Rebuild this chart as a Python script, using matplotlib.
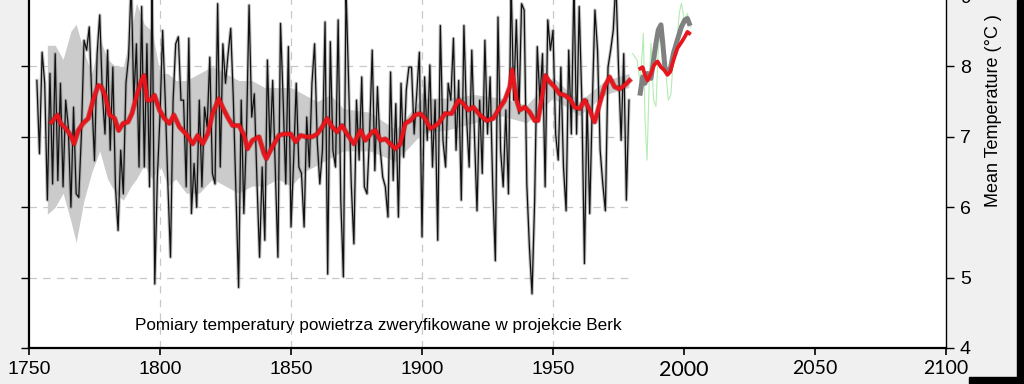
import matplotlib.pyplot as plt
from matplotlib.patches import Rectangle

# annual mean temperature, 1753-1979
annual_start = 1753
annual_temp = [
    7.8, 6.76, 8.2, 7.76, 6.1, 7.9, 6.33, 8.18, 6.38, 7.76,
    6.29, 7.52, 7.14, 6.0, 7.42, 6.19, 6.14, 7.04, 8.37, 8.23,
    8.56, 7.52, 6.66, 8.18, 8.73, 7.61, 7.04, 8.23, 6.81, 7.99,
    6.29, 5.67, 6.81, 6.19, 7.76, 8.13, 9.2, 7.52, 8.32, 6.57,
    8.85, 6.57, 8.32, 6.29, 9.2, 4.91, 6.43, 7.3, 8.51, 7.52,
    6.33, 5.29, 7.52, 8.32, 8.42, 7.52,
    # 1809-
    7.52, 6.29, 8.4, 5.91, 6.62, 6.0, 7.52, 6.29, 7.42, 7.14,
    8.13, 6.48, 6.33, 8.89, 6.57, 8.32, 7.76, 8.18, 8.54, 7.52,
    6.19, 4.86, 7.52, 5.91, 7.04, 8.87, 7.28, 7.61, 6.38, 5.29,
    6.57, 5.53, 8.09, 6.81, 7.8, 6.57, 5.29, 8.61, 7.52, 6.33,
    8.28, 5.72, 6.66, 7.76, 6.57, 6.48, 5.72, 7.28, 6.57, 7.76,
    8.32, 6.95, 6.33, 6.81, 8.63, 5.05, 8.35, 6.81,
    # 1867-
    6.57, 8.66, 6.1, 5.01, 9.1, 7.76, 6.33, 5.48, 7.52, 6.67,
    7.85, 6.29, 6.19, 7.04, 8.23, 6.52, 7.71, 6.85, 6.43, 6.29,
    5.86, 7.92, 6.38, 7.47, 5.86, 7.76, 6.71, 7.66, 7.99, 7.99,
    7.04, 7.61, 8.2, 5.58, 7.85, 6.95, 8.02, 6.57, 7.52, 5.53,
    8.58, 6.95, 6.57, 7.76, 7.52, 8.4, 6.81, 7.8, 6.1, 8.58,
    7.28, 6.57, 8.23, 7.04, 5.95, 7.52, 6.48, 8.37, 7.04, 7.85,
    # 1927-
    6.29, 5.24, 8.7, 6.81, 6.29, 7.38, 6.19, 9.2, 7.52, 8.66,
    7.33, 8.89, 8.8, 6.33, 5.43, 4.77, 6.1, 8.28, 7.52, 8.18,
    6.29, 8.66, 8.23, 8.51, 7.04, 6.67, 7.99, 6.57, 5.95, 8.23,
    7.04, 9.2, 7.04, 8.85, 7.52, 5.2, 7.52, 5.91, 7.47, 8.8,
    8.23, 6.81, 6.33, 5.95, 7.99, 8.23, 8.51, 9.2, 7.99, 6.95,
    8.18, 6.1, 7.52,
]
annual_years = list(range(annual_start, annual_start + len(annual_temp)))

# 10-year moving average (red)
red_years = [
    1758.6, 1760.9, 1762.1, 1764, 1765, 1766.2, 1767.2, 1768.8, 1770.6, 1772.6,
    1774.5, 1776.4, 1777.6, 1779.2, 1780.8, 1782.7, 1784.2, 1785.9, 1787.8, 1789.3,
    1791, 1792.9, 1793.9, 1795.1, 1796.6, 1797.9, 1799.8, 1801.7, 1803.6, 1805.3,
    1807.4, 1810, 1812.5, 1814.4, 1816.3, 1818.2, 1820.1, 1822.4, 1823.9, 1825.8,
    1827.7, 1830.2, 1832.1, 1833.4, 1835.3, 1837.8, 1839.7, 1840.6, 1842.9, 1845.4,
    1847.3, 1849.9, 1851.8, 1853.7, 1855.6, 1858.1, 1860, 1861.9, 1863.8, 1865.7,
    1867.6, 1869.5, 1871.4, 1874, 1876.5, 1878.4, 1881, 1882.2, 1884.1, 1886,
    1887.9, 1889.8, 1891.7, 1893.6, 1895.5, 1897.4, 1899.3, 1901.2, 1903.1, 1904.4,
    1906.3, 1908.8, 1911.3, 1913.9, 1915.8, 1917.7, 1919.6, 1922.1, 1924.7, 1927.2,
    1929.1, 1931.6, 1933.5, 1934.4, 1936.1, 1937.3, 1939.2, 1941.1, 1943, 1944.3,
    1945.6, 1947.1, 1948.7, 1950.6, 1952.5, 1954.5, 1956.4, 1958.3, 1960.2, 1962.1,
    1964, 1965.9, 1967.8, 1969.7, 1971.6, 1973.5, 1975.4, 1977.3, 1979.2,
]
red_temp = [
    7.21, 7.31, 7.19, 7.12, 7.07, 7.0, 6.9, 7.09, 7.19, 7.26,
    7.52, 7.73, 7.71, 7.57, 7.31, 7.26, 7.09, 7.19, 7.21, 7.33,
    7.57, 7.8, 7.87, 7.52, 7.52, 7.59, 7.38, 7.26, 7.19, 7.31,
    7.14, 7.04, 6.9, 7.02, 6.9, 7.04, 7.33, 7.54, 7.42, 7.28,
    7.16, 7.16, 7.02, 6.83, 6.95, 7.0, 6.76, 6.69, 6.86, 7.02,
    7.04, 7.04, 6.93, 7.02, 7.0, 7.0, 7.04, 7.14, 7.26, 7.14,
    7.07, 7.16, 7.04, 6.9, 7.09, 6.95, 7.07, 7.09, 6.95, 6.97,
    6.9, 6.83, 6.9, 7.19, 7.23, 7.31, 7.33, 7.26, 7.12, 7.14,
    7.19, 7.33, 7.33, 7.52, 7.47, 7.38, 7.42, 7.31, 7.23, 7.26,
    7.38, 7.52, 7.71, 7.95, 7.52, 7.38, 7.42, 7.35, 7.23, 7.23,
    7.52, 7.87, 7.78, 7.71, 7.61, 7.59, 7.54, 7.42, 7.4, 7.52,
    7.38, 7.21, 7.47, 7.71, 7.85, 7.71, 7.68, 7.73, 7.8,
]

# uncertainty band
band_years = [1757, 1760, 1763, 1766, 1768, 1771, 1774, 1777, 1780, 1783,
              1786, 1789, 1791, 1794, 1797, 1800, 1803, 1806, 1810, 1815,
              1820, 1825, 1830, 1835, 1840, 1845, 1850, 1855, 1860, 1865,
              1870, 1880, 1890, 1900, 1910, 1920, 1930, 1940, 1950, 1960,
              1970, 1979]
band_lo = [5.9, 6.0, 6.2, 5.8, 5.5, 6.1, 6.5, 6.8, 6.4, 6.2,
           6.1, 6.3, 6.4, 6.6, 6.4, 6.6, 6.3, 6.4, 6.2, 6.2,
           6.4, 6.3, 6.2, 6.3, 6.3, 6.4, 6.3, 6.5, 6.6, 6.7,
           6.8, 6.8, 6.65, 7.05, 7.1, 7.2, 7.3, 7.2, 7.55, 7.3,
           7.6, 7.7]
band_hi = [8.3, 8.3, 8.1, 8.5, 8.6, 8.2, 7.9, 8.4, 8.1, 8.0,
           8.0, 8.5, 8.9, 8.6, 8.5, 7.9, 7.9, 7.8, 7.8, 7.9,
           8.0, 7.9, 7.8, 7.8, 7.7, 7.7, 7.7, 7.6, 7.5, 7.6,
           7.4, 7.35, 7.1, 7.55, 7.55, 7.6, 7.55, 7.45, 7.85, 7.5,
           7.8, 7.9]

# pasted recent segment
new_years_red = [1983.3, 1984.2, 1985.1, 1986.1, 1987.4, 1988.6, 1989.9, 1991.2, 1992.4,
                 1993.7, 1994.7, 1996, 1997.5, 1998.8, 2000.3, 2001.3, 2002]
new_red = [7.97, 7.99, 7.88, 7.8, 7.9, 8.02, 8.07, 7.99, 7.95,
           7.88, 7.92, 8.09, 8.26, 8.33, 8.42, 8.49, 8.47]
new_years_gray = [1983.3, 1984.2, 1985.1, 1986.1, 1987.4, 1988.4, 1989.3, 1990.2, 1991.2,
                  1991.9, 1992.7, 1993.7, 1994.7, 1996, 1997.5, 1999, 2000.3, 2001.3, 2002]
new_gray = [7.62, 7.85, 7.76, 7.9, 7.83, 8.09, 8.33, 8.52, 8.59,
            8.33, 7.99, 7.92, 7.95, 8.19, 8.38, 8.56, 8.66, 8.68, 8.61]
new_years_green = [1980.4, 1982.1, 1983.3, 1984.5, 1985.1, 1985.9, 1986.7, 1987.4, 1988.4,
                   1989.3, 1990.2, 1991.2, 1992.2, 1993.1, 1994, 1995, 1996, 1996.9,
                   1998.2, 1999, 2000.1, 2001.3, 2002.6]
new_green = [8.18, 8.09, 7.76, 8.47, 7.28, 6.67, 7.76, 8.33, 7.52,
             7.43, 8.23, 8.56, 8.23, 7.9, 7.52, 7.6, 8.18, 8.23,
             8.75, 8.9, 8.66, 8.75, 8.56]

xticks = [1750, 1800, 1850, 1900, 1950, 2000, 2050, 2100]
yticks = [4, 5, 6, 7, 8, 9]

fig = plt.figure(figsize=(10.24, 3.84), dpi=100, facecolor='#f0f0f0')
ax = fig.add_axes([29 / 1024, 36 / 384, 917 / 1024, 352 / 384])
ax.set_facecolor('white')
ax.set_xlim(1750, 2100)
ax.set_ylim(4, 9)

# grid (only on the old part of the chart)
for g in [5, 6, 7, 8]:
    ax.hlines(g, 1750, 1978.5, colors='#c8c8c8', linestyles=(0, (6, 5)), lw=0.9, zorder=1)
for g in [1800, 1850, 1900, 1950]:
    ax.axvline(g, color='#c8c8c8', ls=(0, (6, 5)), lw=0.9, zorder=1)

ax.fill_between(band_years, band_lo, band_hi, color='#cbcbcb', lw=0, zorder=2)
ax.plot(annual_years, annual_temp, color='#8c8c8c', lw=2.4, alpha=0.55, zorder=3)
ax.plot(annual_years, annual_temp, color='#111111', lw=0.9, zorder=4)
ax.plot(red_years, red_temp, color='#a00000', lw=3.8, alpha=0.5, zorder=5)
ax.plot(red_years, red_temp, color='#e8161c', lw=2.7, zorder=6)

ax.plot(new_years_green, new_green, color='#b4ecb4', lw=0.8, zorder=3)
ax.plot(new_years_gray, new_gray, color='#808080', lw=3.6, zorder=4)
ax.plot(new_years_red, new_red, color='#e8161c', lw=2.7, zorder=6)

ax.text(1790.3, 4.32, 'Pomiary temperatury powietrza zweryfikowane w projekcie Berk',
        fontsize=12.3, family='Liberation Sans', va='center', ha='left', zorder=7)

for s in ['left', 'bottom', 'right']:
    ax.spines[s].set_color('black')
ax.spines['left'].set_linewidth(1.6)
ax.spines['bottom'].set_linewidth(1.6)
ax.spines['right'].set_linewidth(1.0)
ax.spines['top'].set_visible(False)

ax.set_xticks(xticks, [str(t) for t in xticks])
ax.set_yticks(yticks, [str(t) for t in yticks])
ax.tick_params(axis='x', direction='out', length=5, width=1.2, pad=4)
ax.tick_params(axis='y', direction='out', length=6, width=1.0, left=True, right=True,
               labelleft=False, labelright=True, labelsize=14, pad=4)
for lab in ax.get_yticklabels():
    lab.set_family('Liberation Sans')
for lab, t in zip(ax.get_xticklabels(), xticks):
    if t < 2000:
        lab.set_family('Liberation Sans')
        lab.set_fontsize(14)
    else:
        lab.set_family('Lato')
        lab.set_fontsize(15.5 if t == 2000 else 14)

fig.text(993 / 1024, 1 - 207 / 384, 'Mean Temperature (°C )', rotation=90,
         ha='center', va='bottom', fontsize=13, family='Liberation Sans')

# dark frame pieces at the right edge
fig.patches.append(Rectangle((1017 / 1024, 7 / 384), 7 / 1024, 377 / 384,
                             transform=fig.transFigure, color='black', zorder=0))
fig.patches.append(Rectangle((969 / 1024, 0), 55 / 1024, 7 / 384,
                             transform=fig.transFigure, color='black', zorder=0))

fig.savefig('out.png', dpi=100, facecolor=fig.get_facecolor())
